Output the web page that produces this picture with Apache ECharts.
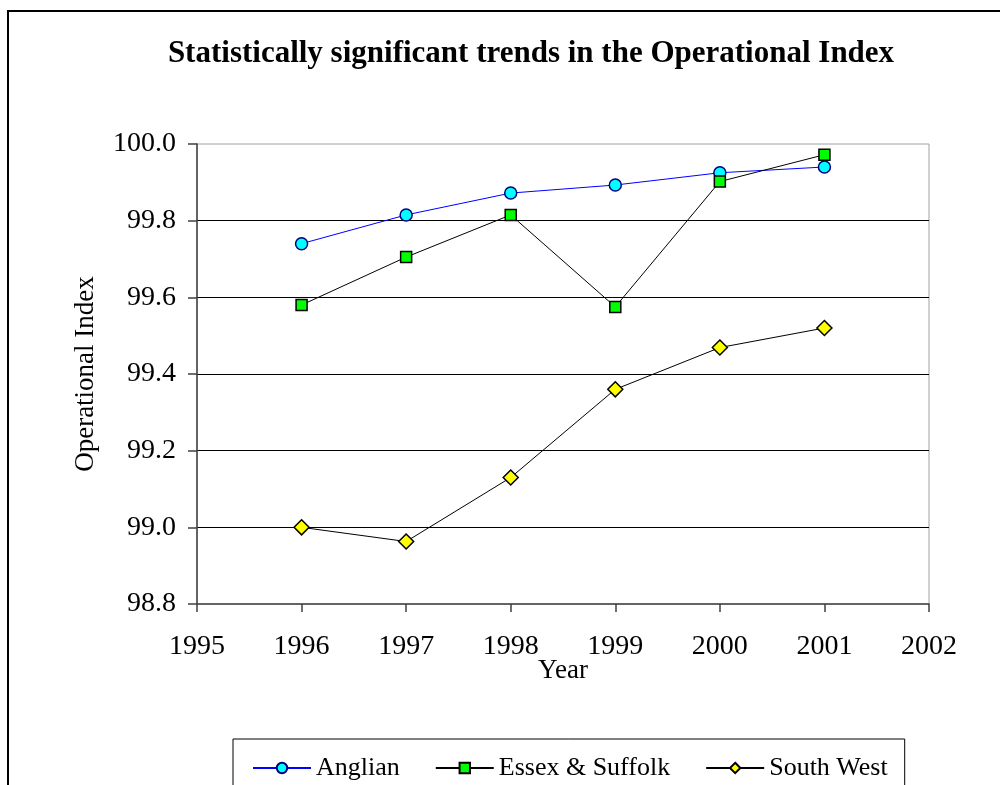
<!DOCTYPE html>
<html>
<head>
<meta charset="utf-8">
<script src="https://cdn.jsdelivr.net/npm/echarts@6/dist/echarts.min.js"></script>
<style>
html,body{margin:0;padding:0;background:#fff;}
#chart{width:1000px;height:785px;}
</style>
</head>
<body>
<div id="chart"></div>
<script>
const years = [1996, 1997, 1998, 1999, 2000, 2001];
const anglian = [99.74, 99.815, 99.872, 99.893, 99.925, 99.94];
const essexSuffolk = [99.58, 99.705, 99.815, 99.575, 99.902, 99.972];
const southWest = [99.0, 98.963, 99.13, 99.36, 99.469, 99.52];
const seriesNames = ['Anglian', 'Essex & Suffolk', 'South West'];
const titleText = 'Statistically significant trends in the Operational Index';

const FONT = '"Liberation Serif", "Times New Roman", serif';
const pair = (xs, ys) => xs.map((x, i) => [x, ys[i]]);

const chart = echarts.init(document.getElementById('chart'), null, {renderer: 'canvas'});
chart.setOption({
  backgroundColor: '#ffffff',
  animation: false,
  textStyle: {fontFamily: FONT},
  graphic: [{
    type: 'rect',
    shape: {x: 8, y: 11, width: 1100, height: 900},
    style: {fill: 'none', stroke: '#000', lineWidth: 2},
    silent: true, z: -1
  }],
  title: {
    text: titleText,
    left: 526,
    textAlign: 'center',
    top: 33,
    textStyle: {fontFamily: FONT, fontSize: 31, fontWeight: 'bold', color: '#000'}
  },
  grid: {
    left: 197, top: 144, right: 71, bottom: 181,
    show: true, borderColor: '#a0a0a0', borderWidth: 1, backgroundColor: 'transparent'
  },
  xAxis: {
    type: 'value', min: 1995, max: 2002, interval: 1,
    name: 'Year', nameLocation: 'middle', nameGap: 53, nameMoveOverlap: false,
    nameTextStyle: {fontFamily: FONT, fontSize: 27, color: '#000'},
    axisLine: {show: true, lineStyle: {color: '#404040', width: 1.5}},
    axisTick: {show: true, inside: false, length: 8, lineStyle: {color: '#404040', width: 1.5}},
    axisLabel: {margin: 29, fontFamily: FONT, fontSize: 28, color: '#000', formatter: v => String(Math.round(v))},
    splitLine: {show: false}
  },
  yAxis: {
    type: 'value', min: 98.8, max: 100.0, interval: 0.2,
    name: 'Operational Index', nameLocation: 'middle', nameGap: 98, nameRotate: 90, nameMoveOverlap: false,
    nameTextStyle: {fontFamily: FONT, fontSize: 27, color: '#000'},
    axisLine: {show: true, lineStyle: {color: '#404040', width: 1.5}},
    axisTick: {show: true, inside: false, length: 9, lineStyle: {color: '#404040', width: 1.5}},
    axisLabel: {margin: 21, fontFamily: FONT, fontSize: 28, color: '#000', formatter: v => v.toFixed(1)},
    splitLine: {show: true, showMinLine: false, showMaxLine: false, lineStyle: {color: '#000', width: 1.2}}
  },
  legend: {
    left: 233, top: 739,
    orient: 'horizontal',
    padding: [16, 17, 40, 19],
    borderColor: '#000', borderWidth: 1,
    itemWidth: 58, itemHeight: 13, itemGap: 35,
    textStyle: {fontFamily: FONT, fontSize: 26, color: '#000'},
    data: seriesNames
  },
  series: [
    {
      name: seriesNames[0], type: 'line', data: pair(years, anglian),
      symbol: 'circle', symbolSize: 12,
      lineStyle: {color: '#0000ff', width: 1},
      itemStyle: {color: '#00ffff', borderColor: '#000080', borderWidth: 1.5},
      z: 3
    },
    {
      name: seriesNames[1], type: 'line', data: pair(years, essexSuffolk),
      symbol: 'rect', symbolSize: 11,
      lineStyle: {color: '#000', width: 1},
      itemStyle: {color: '#00ff00', borderColor: '#000', borderWidth: 1.5},
      z: 4
    },
    {
      name: seriesNames[2], type: 'line', data: pair(years, southWest),
      symbol: 'diamond', symbolSize: 15,
      lineStyle: {color: '#000', width: 1},
      itemStyle: {color: '#ffff00', borderColor: '#000', borderWidth: 1.5},
      z: 5
    }
  ]
});
</script>
</body>
</html>
